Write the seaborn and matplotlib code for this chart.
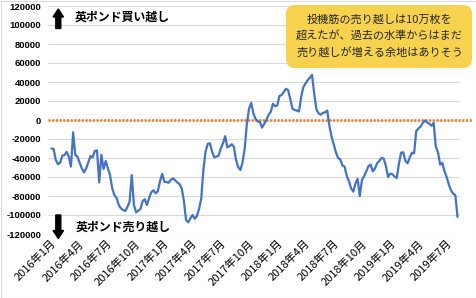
import numpy as np
import pandas as pd
import matplotlib
matplotlib.use("Agg")
import matplotlib.pyplot as plt
import matplotlib.dates as mdates
from matplotlib.patches import FancyArrow, FancyBboxPatch, Rectangle
from matplotlib.ticker import FuncFormatter
import seaborn as sns

# ---- data (weekly CFTC positions, GBP non-commercial net) ----
start_date = "2016-01-05"
week_index = list(range(188))
net_position = [
    -30000, -30500, -42000, -46500, -45000, -37500, -37000, -33500, -38500, -49000,
    -13000, -36800, -38600, -45000, -51000, -55100, -51000, -44500, -38000, -39300,
    -32500, -32000, -65600, -36800, -51600, -43200, -51000, -58000, -72000, -79000,
    -82000, -89500, -93000, -94700, -95800, -91500, -86000, -58000, -89500, -97200,
    -95500, -93700, -85500, -83500, -89500, -82000, -76000, -74000, -77200, -75000,
    -64500, -56800, -64900, -65500, -66000, -62800, -61500, -63500, -65800, -67500,
    -72000, -85000, -105300, -107700, -103500, -100000, -104000, -101000, -93500, -82500,
    -52000, -33000, -25000, -24500, -33500, -39500, -38500, -37500, -30000, -24500,
    -17000, -28800, -27500, -25500, -28000, -42000, -49500, -52600, -45000, -30000,
    -4000, 12000, 18000, 7000, 1000, -1500, -2000, -8000, -4000, 0,
    5500, 8500, 17000, 14500, 15500, 25300, 26300, 29500, 32800, 31500,
    22000, 12000, 10500, 10000, 9000, 24000, 34500, 38500, 42000, 44500,
    47500, 28000, 11500, 7000, 5500, 7500, 8000, 10000, -6000, -17500,
    -25500, -34000, -40000, -41500, -47800, -49000, -59000, -64500, -72000, -75500,
    -67000, -62000, -80000, -63000, -59000, -54000, -48500, -47000, -54000, -51000,
    -45500, -43000, -40000, -40500, -48000, -60000, -56500, -57000, -59500, -61000,
    -46500, -34400, -34000, -43000, -45500, -39500, -34400, -35100, -11500, -9000,
    -6800, -3000, -500, -2500, -4000, -6000, -3000, -28000, -34000, -47000,
    -45000, -54000, -60000, -68000, -74000, -77500, -79000, -102000,
]
zero_line = 0
y_ticks = list(range(-120000, 120001, 20000))
label_long = "英ポンド買い越し"
label_short = "英ポンド売り越し"
callout_lines = ["投機筋の売り越しは10万枚を", "超えたが、過去の水準からはまだ", "売り越しが増える余地はありそう"]

df = pd.DataFrame({
    "date": pd.Timestamp(start_date) + pd.to_timedelta(np.array(week_index) * 7, unit="D"),
    "net": net_position,
})

sns.set_style("white")
plt.rcParams["font.family"] = ["Noto Sans CJK JP", "DejaVu Sans"]

W, H = 477, 298
fig = plt.figure(figsize=(W / 100, H / 100), dpi=100)
ax = fig.add_axes([48 / W, 1 - 234 / H, (460 - 48) / W, (234 - 6) / H])

sns.lineplot(data=df, x="date", y="net", ax=ax, color="#4472C4", linewidth=1.6, zorder=3)
ax.axhline(zero_line, color="#ED7D31", linewidth=1.9, linestyle=(0, (0.8, 0.6)),
           xmin=0, xmax=1.03, clip_on=False, zorder=2)

ax.set_ylim(-120000, 120000)
ax.set_yticks(y_ticks)
ax.yaxis.set_major_formatter(FuncFormatter(lambda v, p: f"{int(v)}"))
ax.set_xlim(pd.Timestamp("2015-12-25"), pd.Timestamp("2019-08-14"))
ax.xaxis.set_major_locator(mdates.MonthLocator(bymonth=[1, 4, 7, 10]))
ax.xaxis.set_major_formatter(FuncFormatter(
    lambda v, p: f"{mdates.num2date(v).year}年{mdates.num2date(v).month}月"))
ax.grid(axis="y", color="#D9D9D9", linewidth=0.8)
ax.grid(axis="x", visible=False)
for s in ax.spines.values():
    s.set_visible(False)
ax.tick_params(axis="both", length=0)
ax.tick_params(axis="y", pad=5)
ax.tick_params(axis="x", pad=3)
for lab in ax.get_yticklabels():
    lab.set_fontsize(6.8)
    lab.set_fontweight("bold")
    lab.set_color("black")
    lab.set_family(["Liberation Sans", "DejaVu Sans"])
for lab in ax.get_xticklabels():
    lab.set_rotation(45)
    lab.set_ha("right")
    lab.set_rotation_mode("anchor")
    lab.set_fontsize(8)
    lab.set_color("black")
ax.set_xlabel("")
ax.set_ylabel("")

def px(x, y):
    return x / 100, (H - y) / 100

tr = fig.dpi_scale_trans
x0, y0 = px(58.3, 28.5)
fig.add_artist(FancyArrow(x0, y0, 0, 0.195, width=0.05, head_width=0.105, head_length=0.08,
                          length_includes_head=True, color="black", transform=tr))
x0, y0 = px(58.3, 215)
fig.add_artist(FancyArrow(x0, y0, 0, -0.235, width=0.05, head_width=0.105, head_length=0.08,
                          length_includes_head=True, color="black", transform=tr))
fig.text(*px(75, 17), label_long, transform=tr, fontsize=8.6, fontweight="bold",
         va="center", ha="left", color="black")
fig.text(*px(76, 227), label_short, transform=tr, fontsize=8.6, fontweight="bold",
         va="center", ha="left", color="black")

bx0, by1 = px(286, 68)
box = FancyBboxPatch((bx0, by1), (472 - 286) / 100, (68 - 5) / 100,
                     boxstyle="round,pad=0,rounding_size=0.09", transform=tr,
                     facecolor="#F6D24F", edgecolor="none", zorder=5)
fig.add_artist(box)
for i, line in enumerate(callout_lines):
    fig.text(*px(379.5, 20 + 16.5 * i), line, transform=tr, fontsize=8, color="#262626",
             ha="center", va="center", zorder=6)

fig.add_artist(Rectangle((0.5 / W, 0.5 / H), 1 - 1 / W, 1 - 1 / H, transform=fig.transFigure,
                         fill=False, edgecolor="#D9D9D9", linewidth=0.8))

fig.savefig("out.png", dpi=100)
